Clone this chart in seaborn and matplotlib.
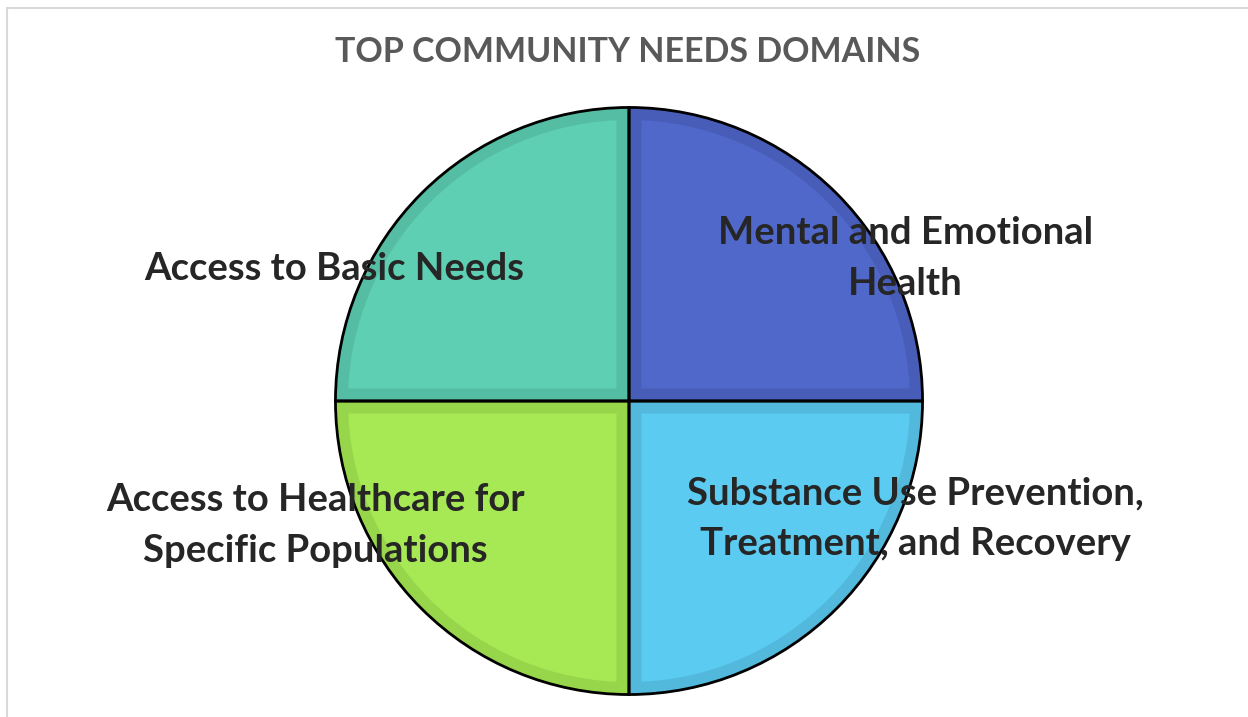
import matplotlib
matplotlib.use("Agg")
import matplotlib.pyplot as plt
import matplotlib.patches as mpatches
import seaborn as sns

# data
domains = [
    "Mental and Emotional\nHealth",
    "Substance Use Prevention,\nTreatment, and Recovery",
    "Access to Healthcare for\nSpecific Populations",
    "Access to Basic Needs",
]
shares = [25, 25, 25, 25]
fill_colors = ["#4F68C9", "#5CCBF1", "#A7E955", "#5ECFB3"]
bevel_colors = ["#475DB8", "#52B9DC", "#97D64B", "#55BDA3"]

sns.set_theme(style="white")
plt.rcParams["font.family"] = ["Lato", "DejaVu Sans"]

fig = plt.figure(figsize=(12.48, 7.17), dpi=100)
W, H = 1248, 717
cx, cy, r = 629, 401, 295
ax = fig.add_axes([(cx - r) / W, (H - cy - r) / H, 2 * r / W, 2 * r / H])

# fill with a darker inner bevel, clipped to each wedge
wedges, _ = ax.pie(shares, colors=fill_colors, startangle=90, counterclock=False,
                   wedgeprops=dict(linewidth=0))
for w, bc in zip(wedges, bevel_colors):
    w.set_edgecolor(bc)
    w.set_linewidth(18)
    clip = mpatches.Wedge(w.center, w.r, w.theta1, w.theta2, transform=ax.transData)
    w.set_clip_on(True)
    w.set_clip_path(clip)

# black outlines
ax.pie(shares, colors=["none"] * 4, startangle=90, counterclock=False,
       wedgeprops=dict(linewidth=2, edgecolor="black", fill=False))

ax.set_xlim(-1.005, 1.005)
ax.set_ylim(-1.005, 1.005)
ax.set_aspect("equal")
ax.axis("off")

label_pos = [(0.942, 0.485), (0.976, -0.40), (-1.068, -0.425), (-1.003, 0.451)]
for txt, (x, y) in zip(domains, label_pos):
    ax.text(x, y, txt, ha="center", va="center", fontsize=27.5, fontweight="bold",
            color="#262626", linespacing=1.6, clip_on=False)

fig.text(628 / W, 1 - 52 / H, "TOP COMMUNITY NEEDS DOMAINS", ha="center", va="center",
         fontsize=24.5, fontweight="bold", color="#595959")

# chart frame
fig.patches.append(mpatches.Rectangle((7 / W, -0.1), 1.2, 1 - 8 / H + 0.1,
                                      transform=fig.transFigure, fill=False,
                                      edgecolor="#D9D9D9", linewidth=1.5))

fig.savefig("out.png", dpi=100)
